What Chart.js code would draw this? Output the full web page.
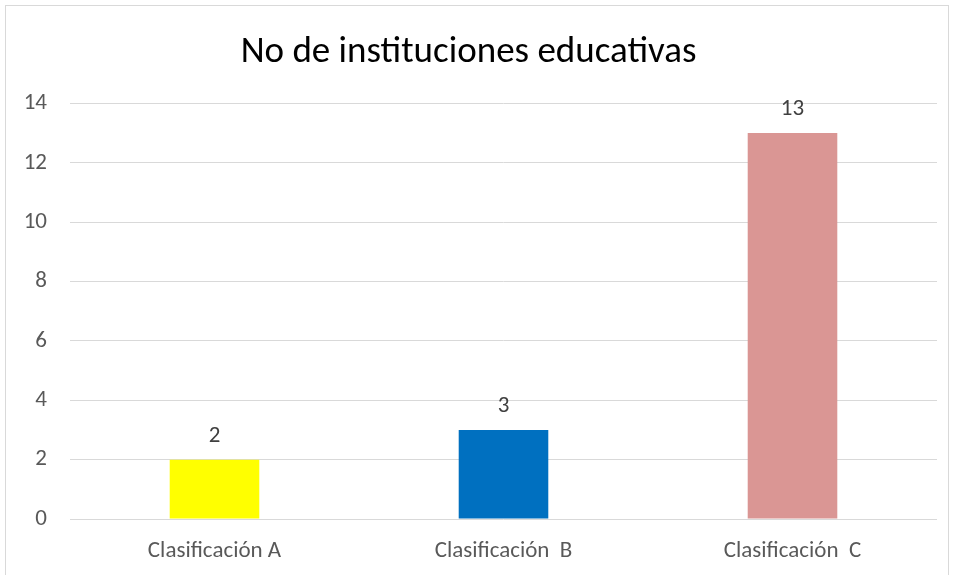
<!DOCTYPE html>
<html>
<head>
<meta charset="utf-8">
<script src="https://cdn.jsdelivr.net/npm/chart.js@4"></script>
<style>
  html, body { margin: 0; padding: 0; background: #fff; }
  #wrap { position: relative; width: 954px; height: 575px; overflow: hidden; }
  #frame { position: absolute; left: 5px; top: 5px; width: 944px; height: 600px; border: 1px solid #d9d9d9; box-sizing: border-box; }
  canvas { position: absolute; left: 0; top: 0; }
</style>
</head>
<body>
<div id="wrap">
  <div id="frame"></div>
  <canvas id="chart" width="954" height="575"></canvas>
</div>
<script>
const categories = ['Clasificación A', 'Clasificación  B', 'Clasificación  C'];
const values = [2, 3, 13];
const barColors = ['#FFFF00', '#0070C0', '#DA9694'];
const yTicks = [0, 2, 4, 6, 8, 10, 12, 14];

const fontFamily = 'Carlito, Calibri, Lato, sans-serif';

// draws the value above each bar
const valueLabels = {
    id: 'valueLabels',
    afterDatasetsDraw(chart) {
        const ctx = chart.ctx;
        const meta = chart.getDatasetMeta(0);
        ctx.save();
        ctx.fillStyle = '#404040';
        ctx.font = '23px ' + fontFamily;
        ctx.textAlign = 'center';
        ctx.textBaseline = 'bottom';
        meta.data.forEach((bar, i) => {
            ctx.fillText(values[i], bar.x, bar.y - 12);
        });
        ctx.restore();
    }
};

new Chart(document.getElementById('chart').getContext('2d'), {
    type: 'bar',
    data: {
        labels: categories,
        datasets: [{
            data: values,
            backgroundColor: barColors,
            barPercentage: 0.31,
            categoryPercentage: 1
        }]
    },
    options: {
        responsive: false,
        animation: false,
        layout: { padding: { left: 0, right: 17, top: 0, bottom: 0 } },
        plugins: {
            legend: { display: false },
            tooltip: { enabled: false },
            title: {
                display: true,
                text: 'No de instituciones educativas',
                color: '#000000',
                font: { family: fontFamily, size: 37, weight: 'normal', lineHeight: 1.2 },
                padding: { top: 31, bottom: 28 }
            }
        },
        scales: {
            x: {
                grid: { display: false, drawTicks: false },
                border: { display: false },
                ticks: { color: '#595959', font: { family: fontFamily, size: 23 }, padding: 18 },
                afterFit(scale) { scale.height = 56; }
            },
            y: {
                min: 0,
                max: 14,
                afterBuildTicks(scale) { scale.ticks = yTicks.map(v => ({ value: v })); },
                grid: { color: '#d9d9d9', lineWidth: 1, drawTicks: false },
                border: { display: false },
                ticks: { color: '#595959', font: { family: fontFamily, size: 23 }, padding: 23 },
                afterFit(scale) { scale.width = 70; }
            }
        }
    },
    plugins: [valueLabels]
});
</script>
</body>
</html>
